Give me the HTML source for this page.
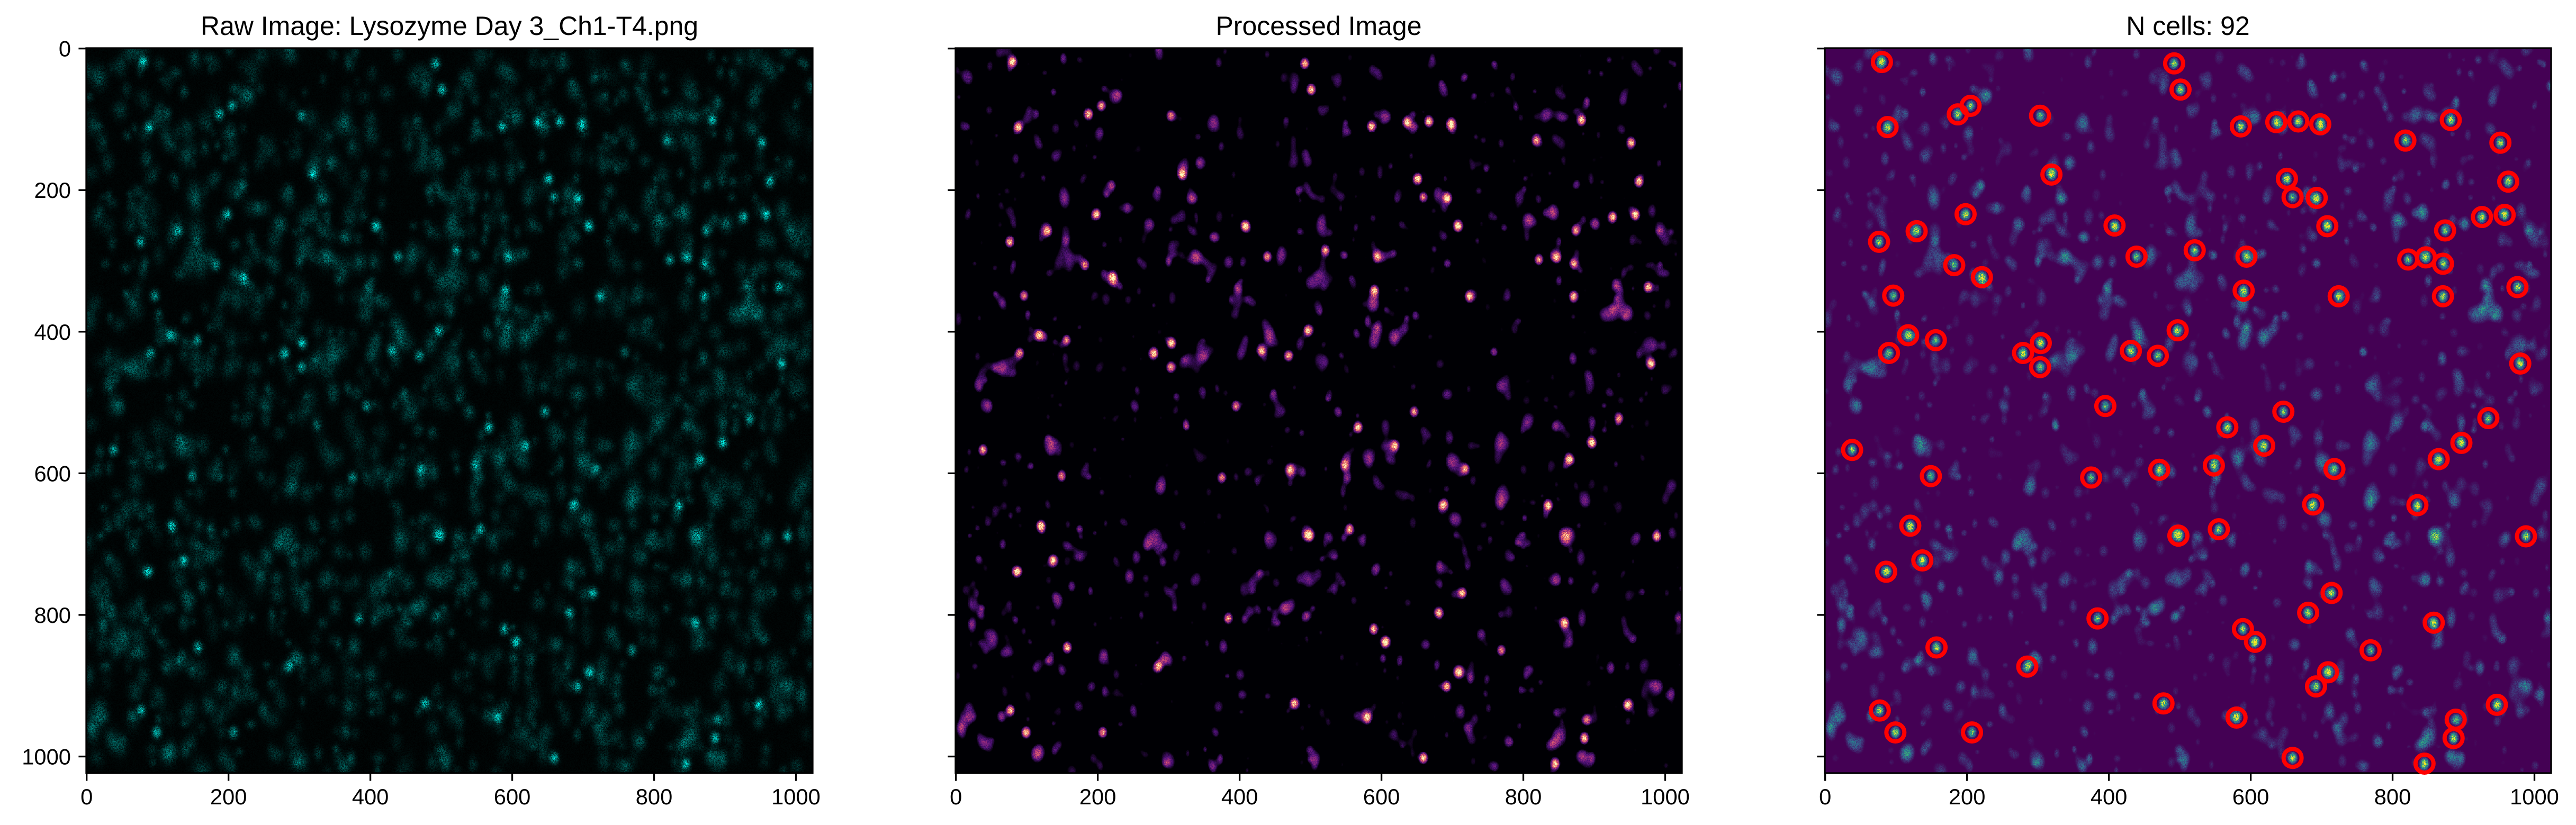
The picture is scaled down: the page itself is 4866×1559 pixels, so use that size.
<!DOCTYPE html>
<html><head><meta charset="utf-8"><title>Cell detection</title>
<style>
html,body{margin:0;padding:0;background:#fff;}
#root{position:relative;width:4866px;height:1559px;overflow:hidden;background:#fff;font-family:"Liberation Sans","DejaVu Sans",sans-serif;}
canvas{position:absolute;width:1372px;height:1370px;top:91px;image-rendering:pixelated;}
svg{position:absolute;left:0;top:0;}
</style></head>
<body>
<div id="root">
<canvas id="c1" width="1024" height="1024" style="left:163px"></canvas>
<canvas id="c2" width="1024" height="1024" style="left:1805px"></canvas>
<canvas id="c3" width="1024" height="1024" style="left:3447px"></canvas>
<svg id="ov" width="4866" height="1559" xmlns="http://www.w3.org/2000/svg"></svg>
</div>
<script>
// detected cell centres (image pixel coords)
const cellX = [80,492,501,205,187,303,88,586,636,667,698,882,818,952,319,651,963,659,693,198,926,958,408,708,874,129,76,521,439,594,822,847,871,182,221,976,590,724,871,96,497,117,156,304,90,279,431,469,303,980,395,646,935,567,38,619,897,865,149,375,471,548,718,688,835,120,498,555,988,137,86,714,681,384,858,589,606,769,157,285,709,692,477,947,77,580,889,99,207,886,659,845];
const cellY = [19,21,58,81,93,95,111,110,104,103,107,101,130,133,178,184,188,210,211,234,238,235,250,251,257,258,273,285,294,294,298,295,304,306,323,337,342,350,350,349,398,405,412,416,430,430,427,434,450,445,505,513,522,535,567,561,557,580,604,606,595,589,594,644,645,674,688,679,689,723,739,769,797,805,811,820,838,850,846,873,881,901,925,927,935,945,948,966,966,974,1002,1010];
const xTicks = [0,200,400,600,800,1000];
const yTicks = [0,200,400,600,800,1000];
const titles = ["Raw Image: Lysozyme Day 3_Ch1-T4.png","Processed Image","N cells: " + cellX.length];

const NS="http://www.w3.org/2000/svg";
const ov=document.getElementById('ov');
const axLeft=[163,1805,3447], axTop=91, axW=1372, axH=1370, S=1372/1024;
const xs=(i,v)=>axLeft[i]+(v+0.5)*S;
const ys=v=>axTop+(v+0.5)*(axH/1024);
function mk(tag,attrs,parent){const e=document.createElementNS(NS,tag);for(const k in attrs)e.setAttribute(k,attrs[k]);(parent||ov).appendChild(e);return e;}

// ---------- image synthesis (decorative texture) ----------
function rng(seed){return function(){seed|=0;seed=seed+0x6D2B79F5|0;let t=Math.imul(seed^seed>>>15,1|seed);t=t+Math.imul(t^t>>>7,61|t)^t;return((t^t>>>14)>>>0)/4294967296;};}
const N=1024, field=new Float32Array(N*N), noise=new Float32Array(N*N);
const r=rng(12345);
function blob(cx,cy,sx,sy,a){const R=Math.ceil(3*Math.max(sx,sy));for(let y=Math.max(0,Math.floor(cy-R));y<Math.min(N,cy+R);y++){for(let x=Math.max(0,Math.floor(cx-R));x<Math.min(N,cx+R);x++){const dx=(x-cx)/sx,dy=(y-cy)/sy;field[y*N+x]+=a*Math.exp(-0.5*(dx*dx+dy*dy));}}}
for(let k=0;k<1900;k++){const s=3+r()*4;blob(r()*N,r()*N,s,s*(1+r()*0.8),0.07+r()*0.2);}
for(let k=0;k<cellX.length;k++){blob(cellX[k],cellY[k],4,5,0.7+r()*0.3);}
for(let i=0;i<N*N;i++)noise[i]=r();

function lerpMap(stops,t){t=Math.max(0,Math.min(1,t));const n=stops.length-1,p=t*n,i=Math.min(n-1,Math.floor(p)),f=p-i;const a=stops[i],b=stops[i+1];return[a[0]+(b[0]-a[0])*f,a[1]+(b[1]-a[1])*f,a[2]+(b[2]-a[2])*f];}
const viridis=[[68,1,84],[59,82,139],[33,145,140],[94,201,98],[253,231,37]];
const magma=[[0,0,4],[81,18,124],[183,55,121],[252,137,97],[252,253,191]];
function paint(id,fn){const c=document.getElementById(id),ctx=c.getContext('2d'),img=ctx.createImageData(N,N),d=img.data;for(let i=0;i<N*N;i++){const col=fn(field[i],noise[i]);d[4*i]=col[0];d[4*i+1]=col[1];d[4*i+2]=col[2];d[4*i+3]=255;}ctx.putImageData(img,0,0);}
paint('c1',(f,n)=>{const v=Math.min(1,f*(0.15+1.0*n)+0.03*n);return[0,v*255,v*245];});
paint('c2',(f,n)=>{const p=Math.max(0,(f-0.19)/0.8)*(0.6+0.8*n);return lerpMap(magma,Math.pow(p,0.8));});
paint('c3',(f,n)=>{const p=Math.max(0,(f-0.12)/0.9)*(0.5+1.0*n);return lerpMap(viridis,p);});

// ---------- axes ----------
for(let i=0;i<3;i++){
  const t=mk('text',{x:axLeft[i]+axW/2,y:66,'font-size':50,'text-anchor':'middle',fill:'#000'});
  
  
  t.textContent=titles[i];
  const sp=mk('rect',{x:axLeft[i],y:axTop,width:axW,height:axH,fill:'none',stroke:'#000','stroke-width':3.3});
  
  
  xTicks.forEach(v=>{
    const x=xs(i,v);
    const tk=mk('line',{x1:x,x2:x,y1:axTop+axH,y2:axTop+axH+14.6,stroke:'#000','stroke-width':3.3});
    
    
    const lb=mk('text',{x:x,y:1520,'font-size':41.7,'text-anchor':'middle',fill:'#000'});
    
    
    lb.textContent=v;
  });
  yTicks.forEach(v=>{
    const y=ys(v);
    const tk=mk('line',{x1:axLeft[i]-14.6,x2:axLeft[i],y1:y,y2:y,stroke:'#000','stroke-width':3.3});
    
    
    if(i===0){
      const lb=mk('text',{x:axLeft[i]-29,y:y+15,'font-size':41.7,'text-anchor':'end',fill:'#000'});
      
      
      lb.textContent=v;
    }
  });
}
// red detection circles
const g=mk('g',{});


for(let k=0;k<cellX.length;k++){
  const c=mk('circle',{cx:xs(2,cellX[k]),cy:ys(cellY[k]),r:17,fill:'none',stroke:'#ff0000','stroke-width':8});
  g.appendChild(c);
  
  
}
</script>
</body></html>
